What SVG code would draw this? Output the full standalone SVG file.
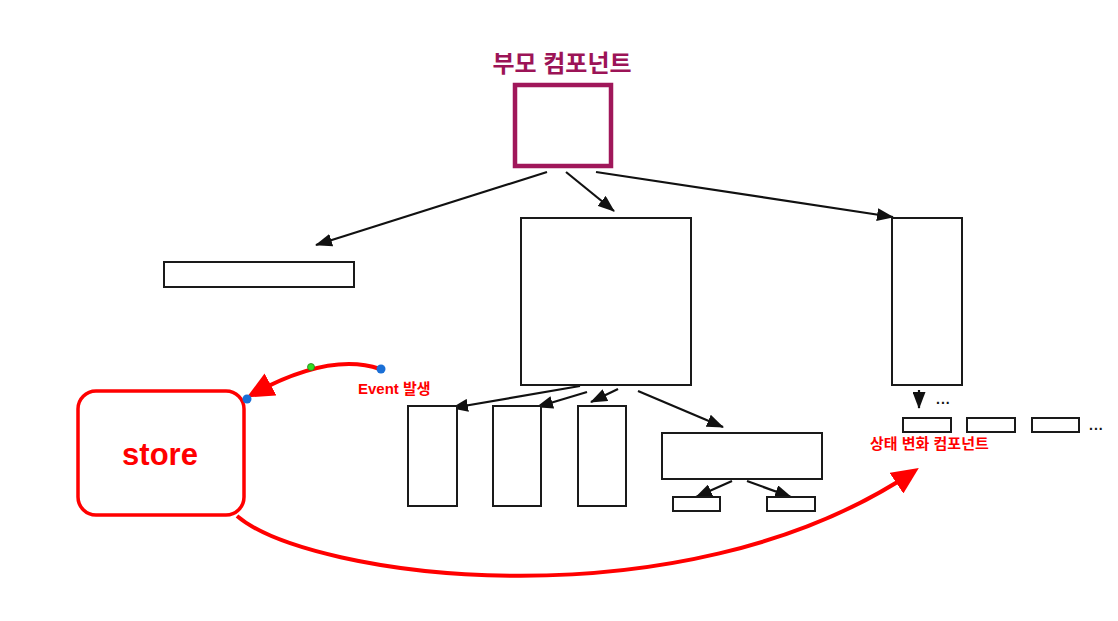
<svg xmlns="http://www.w3.org/2000/svg" width="1118" height="621" viewBox="0 0 1118 621">
<defs>
<style>
.box{fill:#fff;stroke:#1a1a1a;stroke-width:2}
.conn{fill:none;stroke:#111;stroke-width:2.2}
.red{fill:none;stroke:#ff0000;stroke-width:4}
.kr{font-family:"Liberation Sans","Noto Sans CJK KR",sans-serif;font-weight:bold}
.dots{font-family:"Liberation Sans",sans-serif;font-weight:bold;font-size:14px;fill:#111;letter-spacing:1px}
</style>
<marker id="ah" markerUnits="userSpaceOnUse" markerWidth="17" markerHeight="13" refX="16" refY="6.5" orient="auto">
<path d="M0,0 L17,6.5 L0,13 z" fill="#111"/>
</marker>
<marker id="rh" markerUnits="userSpaceOnUse" markerWidth="27" markerHeight="25" refX="20" refY="12.5" orient="auto">
<path d="M0,0 L27,12.5 L0,25 z" fill="#ff0000"/>
</marker>
</defs>
<rect width="1118" height="621" fill="#fff"/>

<g id="connectors">
<line class="conn" x1="547" y1="172" x2="316" y2="245" marker-end="url(#ah)"/>
<line class="conn" x1="566" y1="172" x2="614" y2="211" marker-end="url(#ah)"/>
<line class="conn" x1="596" y1="172" x2="893" y2="217" marker-end="url(#ah)"/>
<line class="conn" x1="580" y1="386" x2="452" y2="408" marker-end="url(#ah)"/>
<line class="conn" x1="587" y1="392" x2="537" y2="407" marker-end="url(#ah)"/>
<line class="conn" x1="618" y1="389" x2="591" y2="402" marker-end="url(#ah)"/>
<line class="conn" x1="638" y1="391" x2="723" y2="427" marker-end="url(#ah)"/>
<line class="conn" x1="732" y1="481" x2="696" y2="497" marker-end="url(#ah)"/>
<line class="conn" x1="747" y1="481" x2="791" y2="497" marker-end="url(#ah)"/>
<line class="conn" x1="919" y1="390" x2="919" y2="408" marker-end="url(#ah)"/>
<path class="red" d="M380,369 Q330,352 253,394" marker-end="url(#rh)"/>
<path class="red" d="M237,516 C310,578 680,628 913,472" marker-end="url(#rh)"/>
</g>

<g id="parent">
<text class="kr" x="562" y="72" font-size="24" fill="#9c1457" text-anchor="middle">부모 컴포넌트</text>
<rect x="515" y="85" width="96" height="81" fill="#fff" stroke="#a0175a" stroke-width="4.5"/>
</g>
<g id="left-child"><rect class="box" x="164" y="262" width="190" height="25"/></g>
<g id="mid-child"><rect class="box" x="521" y="218" width="170" height="167"/></g>
<g id="right-child"><rect class="box" x="892" y="218" width="70" height="167"/></g>

<g id="gc1"><rect class="box" x="408" y="406" width="49" height="100"/></g>
<g id="gc2"><rect class="box" x="493" y="406" width="48" height="100"/></g>
<g id="gc3"><rect class="box" x="578" y="406" width="48" height="100"/></g>
<g id="gc4"><rect class="box" x="662" y="433" width="160" height="46"/></g>
<g id="ggc1"><rect class="box" x="673" y="497" width="47" height="14"/></g>
<g id="ggc2"><rect class="box" x="767" y="497" width="48" height="14"/></g>

<g id="right-more"><text class="dots" x="936" y="404">...</text></g>
<g id="sc1"><rect class="box" x="903" y="418" width="48" height="14"/></g>
<g id="sc2"><rect class="box" x="967" y="418" width="48" height="14"/></g>
<g id="sc3"><rect class="box" x="1032" y="418" width="47" height="14"/></g>
<g id="sc-more"><text class="dots" x="1089" y="430">...</text></g>
<g id="state-label"><text class="kr" x="870" y="449" font-size="15" fill="#ff0000">상태 변화 컴포넌트</text></g>

<g id="store">
<rect x="78" y="391" width="166" height="124" rx="18" fill="#fff" stroke="#ff0000" stroke-width="3.5"/>
<text class="kr" x="160" y="465" font-size="31" fill="#ff0000" text-anchor="middle">store</text>
</g>

<g id="event-label"><text class="kr" x="358" y="394" font-size="15" fill="#ff0000">Event 발생</text></g>
<g id="handles">
<circle cx="381" cy="369" r="4.5" fill="#1a6fd6"/>
<circle cx="311" cy="367" r="3.5" fill="#33dd22" stroke="#2a7a1a" stroke-width="0.8"/>
<circle cx="247" cy="399" r="4.5" fill="#1a6fd6"/>
</g>
</svg>
